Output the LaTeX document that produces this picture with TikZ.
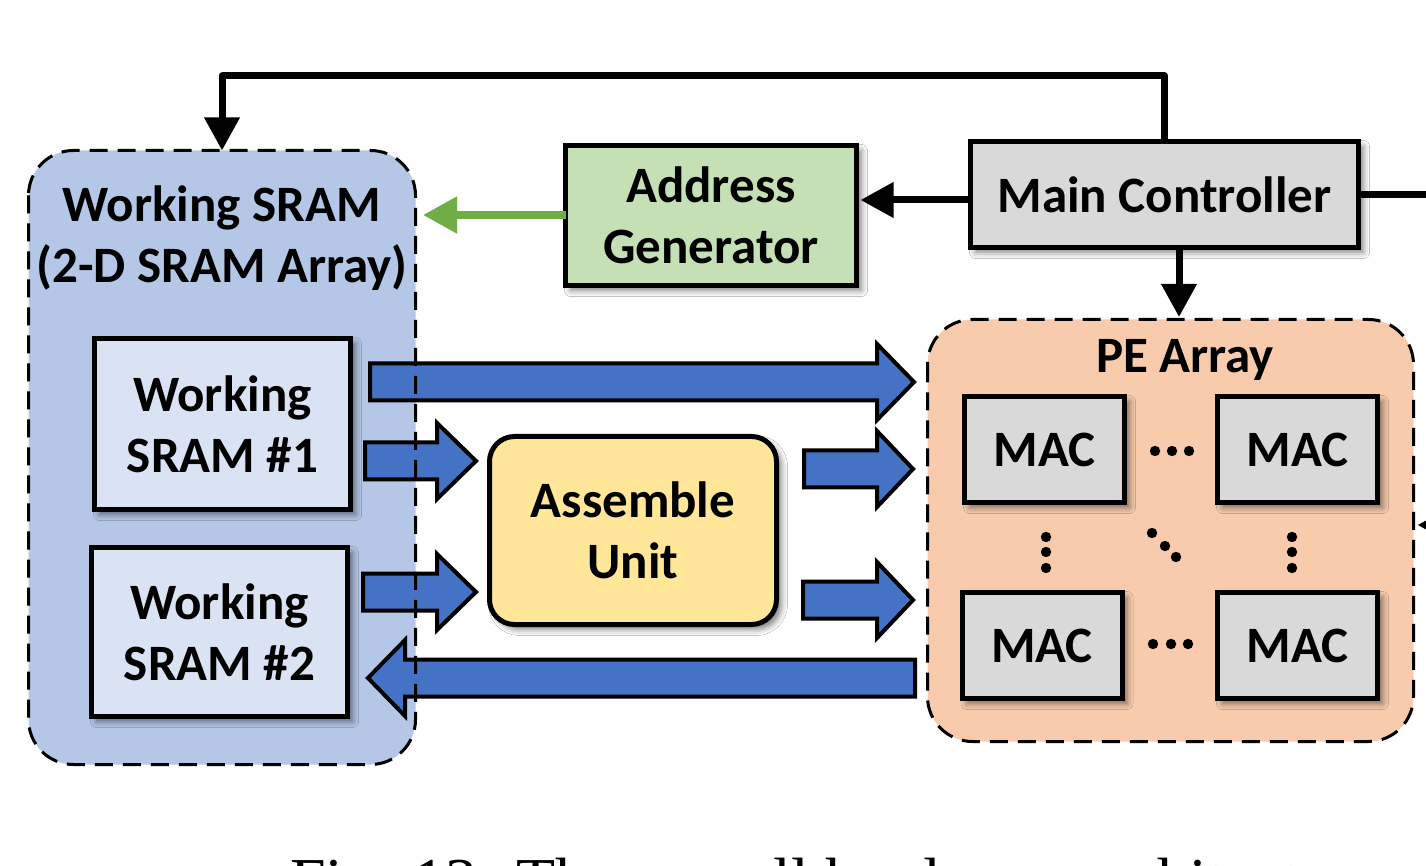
\documentclass[tikz,border=0pt]{standalone}
\usepackage{fontspec}
\setmainfont{Carlito}
\newfontfamily\captionserif{Liberation Serif}
\usetikzlibrary{arrows.meta,calc,shadows.blur}

\definecolor{sramregion}{HTML}{B4C7E7}
\definecolor{srambank}{HTML}{DAE3F3}
\definecolor{addrgreen}{HTML}{C5E0B4}
\definecolor{ctrlgray}{HTML}{D9D9D9}
\definecolor{peregion}{HTML}{F8CBAD}
\definecolor{asmyellow}{HTML}{FFE699}
\definecolor{flowblue}{HTML}{4472C4}
\definecolor{addrline}{HTML}{70AD47}

% wide data-path arrow: start x, tip x, centre y, head base x
\newcommand{\flowarrow}[4]{%
  \draw[blockarrow] (#1,#3-18.5) -- (#4,#3-18.5) -- (#4,#3-38) -- (#2,#3)
    -- (#4,#3+38) -- (#4,#3+18.5) -- (#1,#3+18.5) -- cycle;}

\begin{document}
\begin{tikzpicture}[x=0.5pt,y=-0.5pt,
  lbl/.style={font=\fontsize{25.5}{30.5}\selectfont\bfseries, align=center},
  unitbox/.style={rectangle, draw=black, line width=2.5pt, lbl, inner sep=0pt, outer sep=0pt,
    blur shadow={shadow xshift=2.5pt, shadow yshift=-2.5pt, shadow blur radius=3pt, shadow opacity=50}},
  mac/.style={unitbox, fill=ctrlgray, minimum width=80pt, minimum height=53pt},
  regionfill/.style={rectangle, rounded corners=22.5pt, draw=none, inner sep=0pt, outer sep=0pt},
  regionline/.style={draw=black, line width=1.5pt, dash pattern=on 9pt off 5pt, rounded corners=22.5pt},
  ctrl/.style={line width=3.5pt, line join=round, -{Triangle[width=17pt,length=16.5pt]}},
  addrctl/.style={addrline, line width=4pt, -{Triangle[width=17.5pt,length=17pt]}},
  blockarrow/.style={draw=black, line width=2pt, fill=flowblue, line join=miter}
]
\useasboundingbox (0,0) rectangle (1426,866);
\clip (0,0) rectangle (1426,866);
\fill[white] (0,0) rectangle (1426,866);

% memory and compute regions
\node[regionfill, fill=sramregion, minimum width=193.5pt, minimum height=307pt] (wsram) at (222,457.5) {};
\node[regionfill, fill=peregion, minimum width=243pt, minimum height=211pt] (pe) at (1170.5,530.5) {};

\node[lbl, anchor=base] (wstitle) at (221.5,222) {Working SRAM};
\node[lbl, anchor=base] (wssub) at (222,283) {(2-D SRAM Array)};
\node[lbl, anchor=base] (petitle) at (1185,373) {PE Array};

% functional blocks
\node[unitbox, fill=srambank, minimum width=128pt, minimum height=85.5pt] (ws1) at (222.5,424) {Working\\SRAM \#1};
\node[unitbox, fill=srambank, minimum width=128pt, minimum height=84.5pt] (ws2) at (219.5,632) {Working\\SRAM \#2};
\node[unitbox, fill=addrgreen, minimum width=145.5pt, minimum height=70pt] (addr) at (711,215.5) {Address\\Generator};
\node[unitbox, fill=ctrlgray, minimum width=194pt, minimum height=53pt] (main) at (1164.5,194.5) {Main Controller};
\node[unitbox, fill=asmyellow, rounded corners=12.5pt, minimum width=143.5pt, minimum height=94pt] (asm) at (633,530.5) {Assemble\\Unit};

% MAC grid
\node[mac] (mac11) at (1044.5,449.5) {MAC};
\node[mac] (mac12) at (1297.5,449.5) {MAC};
\node[mac] (mac21) at (1042,645.5) {MAC};
\node[mac] (mac22) at (1297.5,645.5) {MAC};
\foreach \px/\py in {1155/451,1172/451,1189/451, 1153/644,1171/644,1188/644,
                     1046/537,1046/552,1046/568, 1292/537,1292/552,1292/568,
                     1152/533,1165/546,1176/557}
  \fill (\px,\py) circle[radius=2.6pt];

% data paths
\flowarrow{370}{914}{382}{877}
\flowarrow{365}{476}{461}{437}
\flowarrow{363}{476}{592}{437}
\flowarrow{804}{913}{469}{877}
\flowarrow{803}{913}{600}{877}
\flowarrow{915}{368}{678}{405}

% region outlines on top of the data paths
\draw[regionline] (wsram.north west) rectangle (wsram.south east);
\draw[regionline] (pe.north west) rectangle (pe.south east);

% control paths
\coordinate (fbtop) at (1164.5,76);
\coordinate (fbleft) at (222,76);
\draw[ctrl] (main.north) -- (fbtop) -- (fbleft) -- (wsram.north);
\draw[ctrl] ($(main.west)+(0,5.5)$) -- ($(addr.east)+(4,-15.5)$);
\coordinate (addrtip) at (423,215);
\draw[addrctl] ($(addr.west)+(0,-0.5)$) -- (addrtip);
\draw[ctrl] ($(main.south)+(14.5,0)$) -- ($(pe.north)+(8.5,-2.5)$);
\coordinate (exitR) at (1450,194.5);
\draw[line width=3.5pt] (main.east) -- (exitR);
\coordinate (entryR) at (1480,525);
\draw[ctrl] (entryR) -- ($(pe.east)+(4,-5.5)$);

% caption
\node[anchor=base west, inner sep=0pt, font=\captionserif\fontsize{32}{38}\selectfont] (caption) at (290,902)
  {Fig. 13: The overall hardware architecture.};
\end{tikzpicture}
\end{document}
